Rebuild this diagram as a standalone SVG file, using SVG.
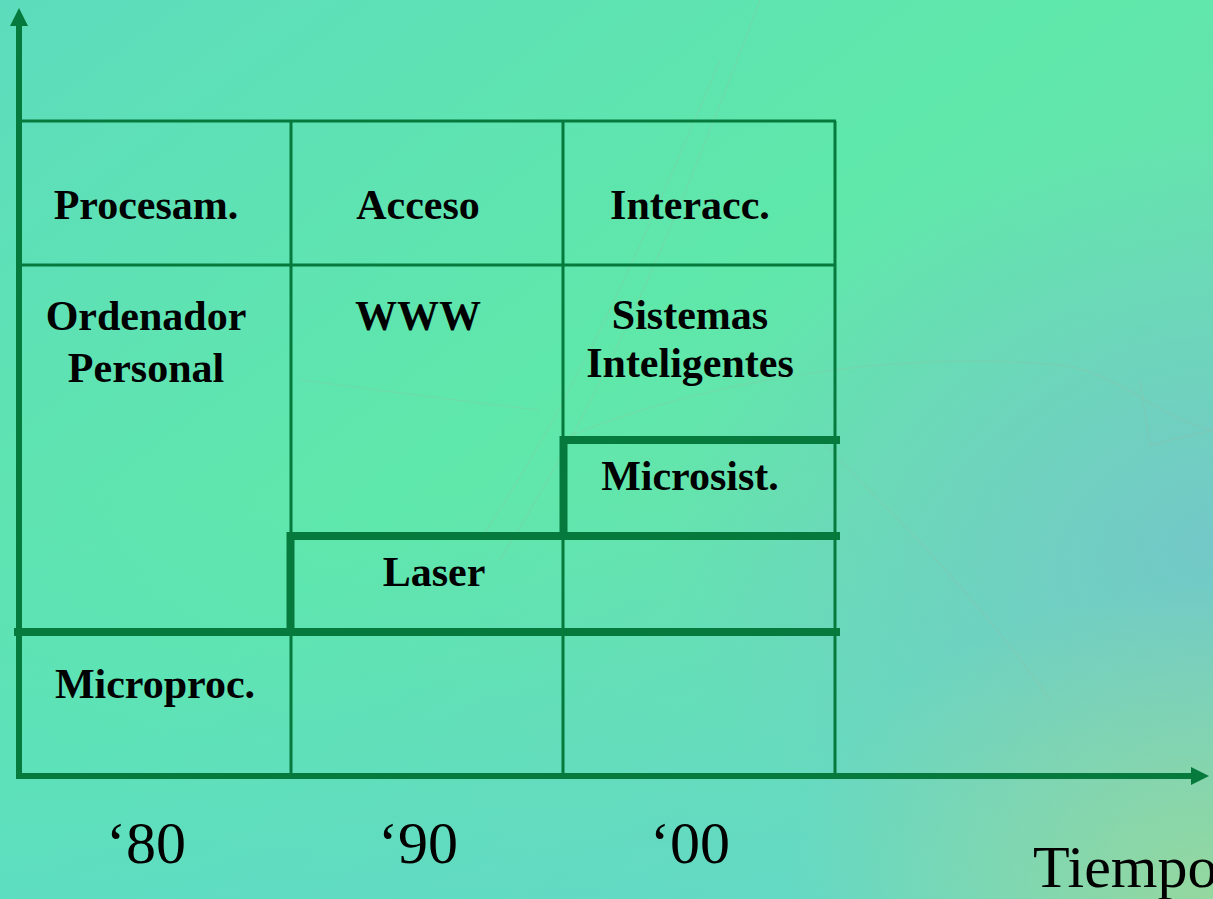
<svg xmlns="http://www.w3.org/2000/svg" width="1213" height="899" viewBox="0 0 1213 899">
  <defs>
    <linearGradient id="bgMain" x1="0" y1="0" x2="1" y2="1">
      <stop offset="0" stop-color="#5ddcbd"/>
      <stop offset="0.45" stop-color="#5fe8aa"/>
      <stop offset="1" stop-color="#78d6b8"/>
    </linearGradient>
    <linearGradient id="bgLow" x1="0" y1="0" x2="0" y2="1">
      <stop offset="0" stop-color="#5ad6d2" stop-opacity="0"/>
      <stop offset="0.55" stop-color="#5ad6d2" stop-opacity="0"/>
      <stop offset="1" stop-color="#5ad6d2" stop-opacity="0.55"/>
    </linearGradient>
    <radialGradient id="bgRight" cx="1" cy="0.6" r="0.45">
      <stop offset="0" stop-color="#74c4cc" stop-opacity="0.8"/>
      <stop offset="1" stop-color="#74c4cc" stop-opacity="0"/>
    </radialGradient>
    <radialGradient id="bgCorner" cx="1" cy="1" r="0.35">
      <stop offset="0" stop-color="#9ad89a" stop-opacity="0.9"/>
      <stop offset="1" stop-color="#9ad89a" stop-opacity="0"/>
    </radialGradient>
    <marker id="arrow" viewBox="0 0 18 18" refX="0" refY="9" markerWidth="18" markerHeight="18" markerUnits="userSpaceOnUse" orient="auto">
      <path d="M0,0 L18,9 L0,18 Z" fill="#057a3c"/>
    </marker>
    <style>
      .thin { stroke: #057a3c; stroke-width: 3; fill: none; }
      .thick { stroke: #057a3c; stroke-width: 8; fill: none; }
      .axis { stroke: #057a3c; stroke-width: 6; fill: none; }
      .lbl { font-family: "Liberation Serif", "Times New Roman", serif; font-weight: bold; font-size: 42px; fill: #000; text-anchor: middle; }
      .yr { font-family: "Liberation Serif", "Times New Roman", serif; font-size: 60px; fill: #000; }
      .swoosh { fill: none; stroke: #b8a890; stroke-width: 1.5; opacity: 0.14; }
    </style>
  </defs>

  <!-- background -->
  <rect x="0" y="0" width="1213" height="899" fill="url(#bgMain)"/>
  <rect x="0" y="0" width="1213" height="899" fill="url(#bgLow)"/>
  <rect x="0" y="0" width="1213" height="899" fill="url(#bgRight)"/>
  <rect x="0" y="0" width="1213" height="899" fill="url(#bgCorner)"/>

  <!-- faint decorative swooshes -->
  <g id="decor">
    <path class="swoosh" d="M480,540 C560,420 620,300 720,60"/>
    <path class="swoosh" d="M500,560 C580,430 640,320 760,0"/>
    <path class="swoosh" d="M560,440 C700,380 900,350 1060,365 C1120,372 1160,420 1213,430"/>
    <path class="swoosh" d="M1140,380 L1150,445 L1213,430"/>
    <path class="swoosh" d="M300,380 C380,390 450,400 540,410"/>
    <path class="swoosh" d="M820,440 C900,520 980,600 1050,700"/>
  </g>

  <!-- grid lines and axes -->
  <g id="connectors">
    <!-- thin grid -->
    <line class="thin" x1="19" y1="121" x2="836" y2="121"/>
    <line class="thin" x1="19" y1="265" x2="836" y2="265"/>
    <line class="thin" x1="291" y1="121" x2="291" y2="776"/>
    <line class="thin" x1="563" y1="121" x2="563" y2="776"/>
    <line class="thin" x1="835" y1="121" x2="835" y2="776"/>
    <!-- thick frontier lines -->
    <path class="thick" d="M563.5,536 V440 H840"/>
    <path class="thick" d="M290.5,632 V536 H840"/>
    <line class="thick" x1="14" y1="632" x2="840" y2="632"/>
    <!-- axes -->
    <line class="axis" x1="19" y1="779" x2="19" y2="26" marker-end="url(#arrow)"/>
    <line class="axis" x1="16" y1="776" x2="1191" y2="776" marker-end="url(#arrow)"/>
  </g>

  <!-- row 1: themes -->
  <g id="procesam"><text class="lbl" x="146" y="219">Procesam.</text></g>
  <g id="acceso"><text class="lbl" x="418" y="219">Acceso</text></g>
  <g id="interacc"><text class="lbl" x="690" y="219">Interacc.</text></g>

  <!-- row 2: applications -->
  <g id="ordenador"><text class="lbl" x="146" y="330">Ordenador</text><text class="lbl" x="146" y="382">Personal</text></g>
  <g id="www"><text class="lbl" x="418" y="330">WWW</text></g>
  <g id="sistemas"><text class="lbl" x="690" y="329">Sistemas</text><text class="lbl" x="690" y="377">Inteligentes</text></g>

  <!-- technologies -->
  <g id="microsist"><text class="lbl" x="690" y="490">Microsist.</text></g>
  <g id="laser"><text class="lbl" x="434" y="586">Laser</text></g>
  <g id="microproc"><text class="lbl" x="155" y="698">Microproc.</text></g>

  <!-- time axis labels -->
  <g id="years">
    <text class="yr" x="106" y="863">‘80</text>
    <text class="yr" x="378" y="863">‘90</text>
    <text class="yr" x="650" y="863">‘00</text>
    <text class="yr" x="1033" y="887">Tiempo</text>
  </g>
</svg>
